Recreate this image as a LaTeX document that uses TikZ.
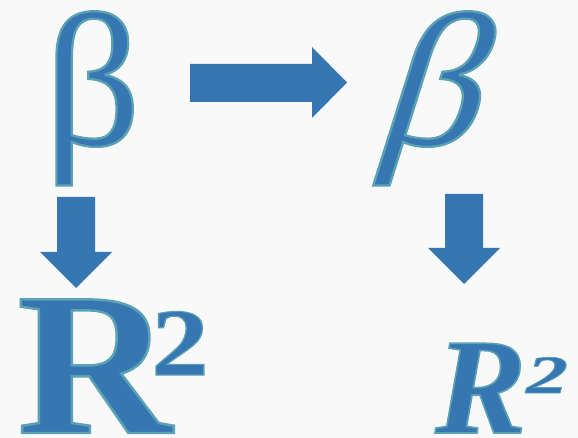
\documentclass[tikz,border=0pt]{standalone}
\usepackage{fontspec}
\setmainfont{Liberation Serif}
\newfontfamily\rimfont[FakeBold=1.2]{Liberation Serif}
\newfontfamily\rimslant[FakeBold=1.2,FakeSlant=0.3]{Liberation Serif}
\definecolor{glyphblue}{RGB}{54,118,178}
\definecolor{paper}{RGB}{249,249,250}
% stroke colour for the glyph rims (fill stays glyphblue)
\newcommand{\rimstroke}{\special{pdf:code 0.353 0.635 0.698 RG}}
\tikzset{
  glyph/.style={inner sep=0pt, text=glyphblue},
  blockarrow/.style={fill=glyphblue}
}
\begin{document}
\begin{tikzpicture}[x=1pt,y=-1pt]
  \fill[paper] (0,0) rectangle (578,438);
  \useasboundingbox (0,0) rectangle (578,438);

  % upright beta and its slanted counterpart
  \node[glyph, anchor=base west, font=\rimfont\fontsize{190}{190}\selectfont] (betaup) at (44,145) {\rimstroke β};
  \node[glyph, anchor=base west, font=\rimslant\fontsize{190}{190}\selectfont] (betait) at (373,145) {\rimstroke\scalebox{1.05}[1]{β}};

  % R squared, upright and italic
  \node[glyph, anchor=base west, font=\rimfont\fontsize{204}{204}\selectfont\bfseries] (rup) at (17,433) {\rimstroke\scalebox{1.05}[1]{R}};
  \node[glyph, anchor=base west, font=\rimfont\fontsize{96}{96}\selectfont\bfseries] (twoup) at (151,375) {\rimstroke\scalebox{1.2}[1]{2}};
  \node[glyph, anchor=base west, font=\rimfont\fontsize{137}{137}\selectfont\bfseries\itshape] (rit) at (435,433) {\rimstroke R};
  \node[glyph, anchor=base west, font=\rimfont\fontsize{54}{54}\selectfont\bfseries\itshape] (twoit) at (526,393) {\rimstroke\scalebox{1.55}[1]{2}};

  % block arrows
  \fill[blockarrow] (190,64) -- (312,64) -- (312,47) -- (347,82.5) -- (312,118) -- (312,102) -- (190,102) -- cycle;
  \fill[blockarrow] (57,197) -- (95,197) -- (95,252) -- (112,252) -- (76,288) -- (40,252) -- (57,252) -- cycle;
  \fill[blockarrow] (445,194) -- (483,194) -- (483,248) -- (500,248) -- (464,284) -- (428,248) -- (445,248) -- cycle;
\end{tikzpicture}
\end{document}
